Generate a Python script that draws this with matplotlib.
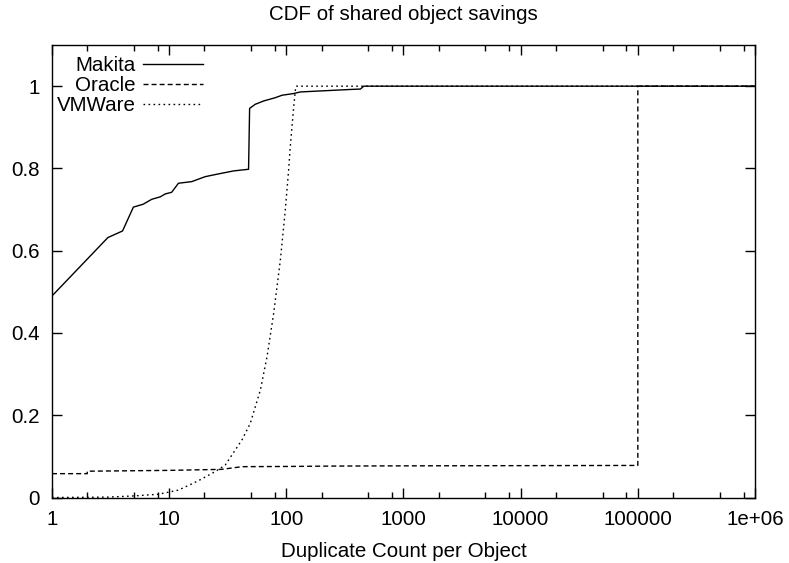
import matplotlib
matplotlib.use("Agg")
import matplotlib.pyplot as plt
from matplotlib.ticker import FixedLocator, NullFormatter

plt.rcParams["font.family"] = ["Liberation Sans", "DejaVu Sans"]

# Makita : CDF
makita_x = [1, 3.0, 4.0, 4.95, 6.0, 7.1, 8.4, 9.25, 10.5, 12.0, 15.6, 20.3, 25.6, 35.5,
            47.6, 48.6, 54.3, 64, 80.5, 92, 115, 132, 352, 429, 458, 1e6]
makita_y = [0.49, 0.632, 0.648, 0.706, 0.713, 0.725, 0.731, 0.738, 0.742, 0.764, 0.768,
            0.780, 0.786, 0.794, 0.798, 0.946, 0.956, 0.964, 0.972, 0.978, 0.982, 0.986,
            0.992, 0.993, 1.0, 1.0]

# Oracle
oracle_x = [1, 2, 2, 10, 28, 42, 100, 263, 1000, 100000, 100000, 1e6]
oracle_y = [0.058, 0.058, 0.064, 0.066, 0.0685, 0.075, 0.0755, 0.0765, 0.077, 0.078, 1.0, 1.0]

# VMWare
vmware_x = [1, 3, 5.1, 8.1, 12, 17.8, 24.7, 30.1, 41.8, 49.2, 60, 68.4, 78, 88.9, 98,
            104.6, 108, 115.6, 119.4, 121, 1e6]
vmware_y = [0.0, 0.001, 0.004, 0.008, 0.018, 0.041, 0.063, 0.079, 0.14, 0.180, 0.261,
            0.342, 0.448, 0.577, 0.699, 0.796, 0.852, 0.950, 0.990, 1.0, 1.0]

xticks = [1, 10, 100, 1000, 10000, 100000, 1000000]
xtick_labels = ["1", "10", "100", "1000", "10000", "100000", "1e+06"]
yticks = [0, 0.2, 0.4, 0.6, 0.8, 1.0]
ytick_labels = ["0", "0.2", "0.4", "0.6", "0.8", "1"]

fs = 14.8

fig = plt.figure(figsize=(7.89, 5.63), dpi=100)
ax = fig.add_axes([0.0659, 0.1163, 0.8910, 0.8037])

ax.plot(makita_x, makita_y, color="black", lw=1.0, label="Makita")
ax.plot(oracle_x, oracle_y, color="black", lw=1.0, dashes=(3.6, 2.2), label="Oracle")
ax.plot(vmware_x, vmware_y, color="black", lw=1.0, dashes=(1.2, 2.4), label="VMWare")

ax.set_xscale("log")
ax.set_xlim(1, 1e6)
ax.set_ylim(0, 1.1)

ax.set_xticks(xticks)
ax.set_xticklabels(xtick_labels)
minors = [m * 10 ** d for d in range(6) for m in (2, 5, 8)]
ax.xaxis.set_minor_locator(FixedLocator(minors))
ax.xaxis.set_minor_formatter(NullFormatter())
ax.set_yticks(yticks)
ax.set_yticklabels(ytick_labels)

ax.tick_params(which="major", direction="in", length=7, width=1, top=True, right=True,
               labelsize=fs)
ax.tick_params(axis="x", which="major", pad=9)
ax.tick_params(axis="y", which="major", pad=9)
ax.tick_params(which="minor", direction="in", length=4, width=1, top=True, right=True)
for s in ax.spines.values():
    s.set_linewidth(1.0)

ax.set_title("CDF of shared object savings", fontsize=fs, pad=18)
ax.set_xlabel("Duplicate Count per Object", fontsize=fs, labelpad=9)

ax.legend(loc="upper left", bbox_to_anchor=(-0.009, 1.0), markerfirst=False,
          frameon=False, fontsize=fs, handlelength=2.9, handletextpad=0.35,
          labelspacing=0.05, borderaxespad=0.15, borderpad=0.4)

fig.savefig("out.png", dpi=100)
